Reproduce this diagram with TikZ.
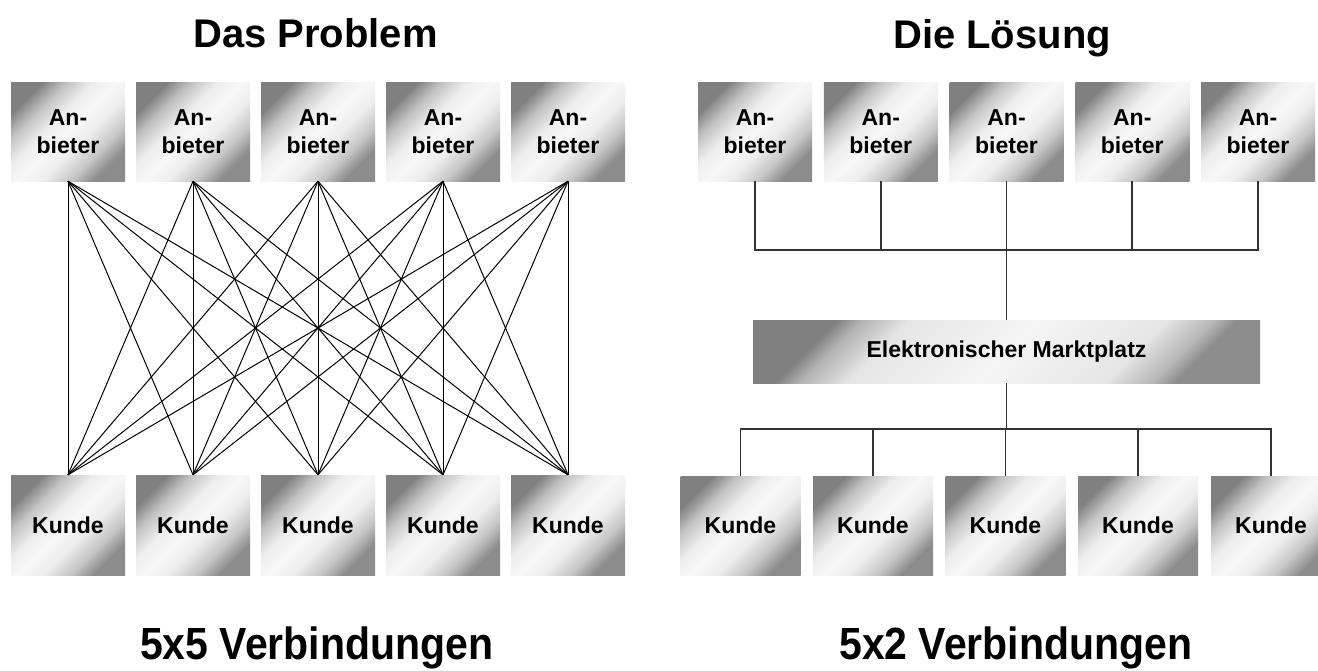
\documentclass[tikz,border=0pt]{standalone}
\usepackage{fontspec}
\setmainfont{Liberation Sans}
\pgfdeclareverticalshading{boxshade}{100bp}{%
  color(0bp)=(black!45); color(25bp)=(black!45); color(33bp)=(black!22);
  color(42bp)=(black!7); color(50bp)=(black!3); color(58bp)=(black!7);
  color(67bp)=(black!24); color(75bp)=(black!50); color(100bp)=(black!50)}
\pgfdeclareverticalshading{mpshade}{100bp}{%
  color(0bp)=(black!45); color(25bp)=(black!45); color(28bp)=(black!28);
  color(34bp)=(black!10); color(50bp)=(black!4); color(66bp)=(black!10);
  color(72bp)=(black!30); color(75bp)=(black!50); color(100bp)=(black!50)}
\begin{document}
\begin{tikzpicture}[x=1pt,y=-1pt,
  box/.style={shading=boxshade, shading angle=45, minimum width=114pt, minimum height=99pt,
    inner sep=0pt, align=center, font=\fontsize{23}{28}\selectfont\bfseries},
  kbox/.style={box, minimum width=120pt},
  mpbox/.style={box, shading=mpshade, minimum width=507pt, minimum height=63pt},
  mesh/.style={line width=1pt, black},
  tree/.style={line width=1.6pt, black!80},
  title/.style={font=\fontsize{40}{48}\selectfont\bfseries, inner sep=0pt, anchor=base west},
  bottomlabel/.style={font=\fontsize{41}{48}\selectfont\bfseries, inner sep=0pt, anchor=base west}]
\useasboundingbox (0,0) rectangle (1318,670);
\fill[white] (0,0) rectangle (1318,670);

% titles
\node[title] (t1) at (193,47) {Das Problem};
\node[title] (t2) at (893,48) {Die Lösung};

% left: the problem
\foreach \i/\x in {1/68,2/193,3/318,4/443,5/568} {
  \node[box] (p\i) at (\x,131.5) {An-\\bieter};
  \node[box, minimum height=100pt] (k\i) at (\x,525) {Kunde};
}
\foreach \i in {1,...,5} {
  \foreach \j in {1,...,5} {
    \draw[mesh] (p\i.south) -- (k\j.north);
  }
}

% right: the solution
\foreach \i/\x in {1/755,2/880.75,3/1006.5,4/1132.25,5/1258} {
  \node[box] (q\i) at (\x,131.5) {An-\\bieter};
}
\node[mpbox] (mp) at (1006.5,351.5) {Elektronischer Marktplatz};
\foreach \i/\x in {1/740.5,2/873,3/1005.5,4/1138,5/1271} {
  \node[kbox] (c\i) at (\x,525.5) {Kunde};
}

\coordinate (tb) at (1006.5,250);
\draw[tree] (q1.south) |- (tb) -| (q5.south);
\foreach \i in {2,3,4} { \draw[tree] (q\i.south) -- (q\i.south |- tb); }
\draw[tree] (tb) -- (mp.north);

\coordinate (bb) at (1005.5,429);
\draw[tree] (mp.south) -- (mp.south |- bb);
\draw[tree] (c1.north) |- (bb) -| (c5.north);
\foreach \i in {2,3,4} { \draw[tree] (c\i.north) -- (c\i.north |- bb); }

% bottom labels
\node[bottomlabel] (b1) at (140,659) {\scalebox{1}[1.1]{5x5 Verbindungen}};
\node[bottomlabel] (b2) at (839,659) {\scalebox{1}[1.1]{5x2 Verbindungen}};
\end{tikzpicture}
\end{document}
